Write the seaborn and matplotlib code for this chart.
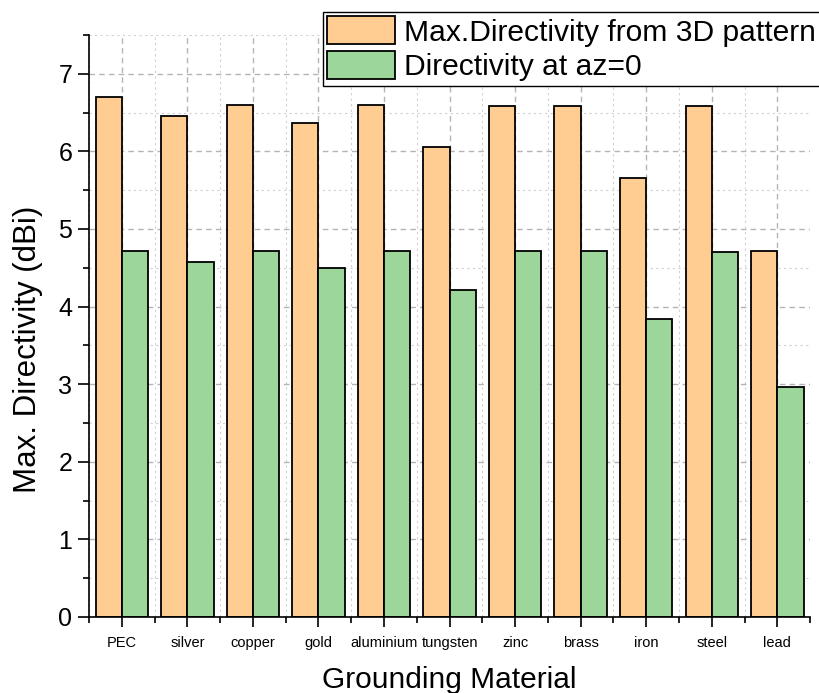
import matplotlib
matplotlib.use("Agg")
import matplotlib.pyplot as plt
from matplotlib.ticker import MultipleLocator, FixedLocator
from matplotlib.patches import Patch
import seaborn as sns
import pandas as pd

materials = ["PEC", "silver", "copper", "gold", "aluminium", "tungsten",
             "zinc", "brass", "iron", "steel", "lead"]
max_dir_3d = [6.70, 6.45, 6.60, 6.37, 6.60, 6.06, 6.59, 6.59, 5.66, 6.58, 4.72]
dir_az0 = [4.72, 4.58, 4.72, 4.50, 4.72, 4.22, 4.71, 4.71, 3.84, 4.70, 2.96]
series_names = ["Max.Directivity from 3D pattern", "Directivity at az=0"]
colors = ["#FFCC91", "#9DD69A"]

df = pd.DataFrame({
    "material": materials * 2,
    "value": max_dir_3d + dir_az0,
    "series": [series_names[0]] * len(materials) + [series_names[1]] * len(materials),
})

sns.set_style("ticks")
plt.rcParams["font.family"] = ["Liberation Sans", "DejaVu Sans"]
plt.rcParams["text.color"] = "black"
plt.rcParams["axes.labelcolor"] = "black"
plt.rcParams["xtick.color"] = "black"
plt.rcParams["ytick.color"] = "black"

fig = plt.figure(figsize=(8.2, 6.93), dpi=100)
ax = fig.add_axes([0.1085, 0.1097, 0.8795, 0.8398])

sns.barplot(data=df, x="material", y="value", hue="series", palette=colors,
            edgecolor="black", linewidth=1.3, width=0.8, gap=0, ax=ax,
            saturation=1, legend=False, errorbar=None)

ax.set_xlim(-0.5, len(materials) - 0.5)
ax.set_ylim(0, 7.5)
ax.yaxis.set_major_locator(MultipleLocator(1))
ax.yaxis.set_minor_locator(MultipleLocator(0.5))
ax.xaxis.set_minor_locator(FixedLocator([i + 0.5 for i in range(-1, len(materials))]))

ax.grid(which="major", axis="both", linestyle=(0, (4, 3)), color="#b4b4b4", linewidth=1.0)
ax.grid(which="minor", axis="both", linestyle=(0, (2, 3)), color="#d0d0d0", linewidth=0.8)
ax.set_axisbelow(True)

for s in ["top", "right"]:
    ax.spines[s].set_visible(False)
for s in ["left", "bottom"]:
    ax.spines[s].set_linewidth(1.2)
    ax.spines[s].set_color("black")

ax.tick_params(axis="y", which="major", length=8, width=1.2, labelsize=18, pad=4, direction="out")
ax.tick_params(axis="y", which="minor", length=4.5, width=1.2, direction="out")
ax.tick_params(axis="x", which="major", length=7.5, width=1.2, labelsize=10.5, pad=6, direction="out")
ax.tick_params(axis="x", which="minor", length=4, width=1.2, direction="out")

ax.set_xlabel("Grounding Material", fontsize=21.5, labelpad=12)
ax.set_ylabel("Max. Directivity (dBi)", fontsize=22.5, labelpad=12)
ax.yaxis.set_label_coords(-0.064, 0.46)

handles = [Patch(facecolor=c, edgecolor="black", linewidth=1.3) for c in colors]
leg = fig.legend(handles, series_names, loc="upper left",
                 bbox_to_anchor=(323 / 820, 1 - 12 / 693),
                 fontsize=21.6, frameon=True, fancybox=False, framealpha=1,
                 edgecolor="black", handlelength=2.25, handleheight=1.05,
                 labelspacing=0.15, borderpad=0.15, handletextpad=0.3,
                 borderaxespad=0)
leg.get_frame().set_linewidth(1.0)

fig.savefig("out.png", dpi=100)
